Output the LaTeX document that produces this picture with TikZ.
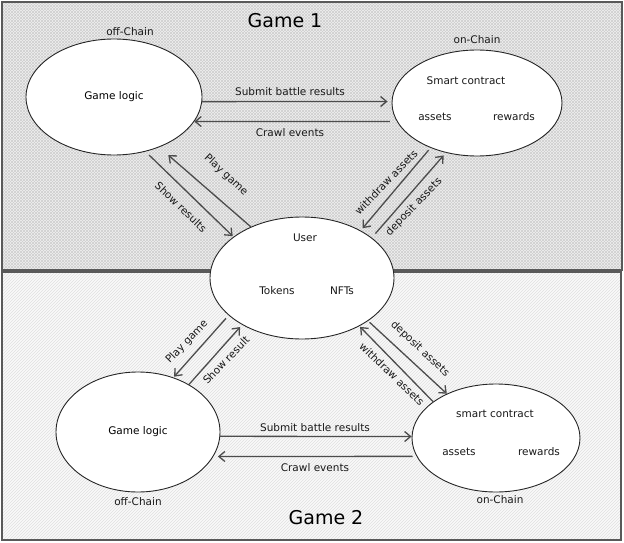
\documentclass[tikz,border=0pt]{standalone}
\usepackage{fontspec}
\setmainfont{DejaVu Sans}
\usetikzlibrary{shapes.geometric,arrows.meta,patterns}
\begin{document}
\begin{tikzpicture}[x=1pt,y=-1pt,
  blob/.style={ellipse,draw=black!85,line width=0.9pt,fill=white,inner sep=0pt,
    font=\fontsize{10.5}{12}\selectfont},
  arr/.style={draw=black!70,line width=1.3pt,-{Straight Barb[length=6pt,width=10pt]}},
  lbl/.style={font=\fontsize{10.5}{12}\selectfont,text=black!90,inner sep=0.5pt},
  ttl/.style={font=\fontsize{19}{22}\selectfont,inner sep=0pt},
  framebox/.style={draw=black!65,line width=1.6pt}]
\useasboundingbox (0,0) rectangle (624,543);
% panels
\fill[gray!12] (2,2) rectangle (622,270);
\fill[pattern=north east lines,pattern color=gray!38] (2,2) rectangle (622,270);
\fill[pattern=north west lines,pattern color=gray!38] (2,2) rectangle (622,270);
\draw[framebox] (2,2) rectangle (622,270);
\fill[gray!4] (2,272) rectangle (621,540);
\fill[pattern=north east lines,pattern color=gray!24] (2,272) rectangle (621,540);
\draw[framebox] (2,272) rectangle (621,540);
% titles
\node[ttl] (t1) at (285,21) {Game 1};
\node[ttl] (t2) at (326,518) {Game 2};
% ellipses
\node[blob,minimum width=176pt,minimum height=116pt] (gl1) at (114,97) {Game logic};
\node[blob,minimum width=170pt,minimum height=106pt] (sc1) at (477,103) {};
\node[blob,minimum width=184pt,minimum height=122pt] (usr) at (302,278) {};
\node[blob,minimum width=164pt,minimum height=120pt] (gl2) at (138,432) {Game logic};
\node[blob,minimum width=168pt,minimum height=108pt] (sc2) at (496,438) {};
% texts in ellipses
\node[lbl] (sct1) at (466,81) {Smart contract};
\node[lbl] (as1) at (435,117) {assets};
\node[lbl] (rw1) at (514,117) {rewards};
\node[lbl] (sct2) at (495,414) {smart contract};
\node[lbl] (as2) at (459,452) {assets};
\node[lbl] (rw2) at (539,452) {rewards};
\node[lbl] (ut) at (305,238) {User};
\node[lbl] (tk) at (277,291) {Tokens};
\node[lbl] (nf) at (342,291) {NFTs};
% chain labels
\node[lbl] (oc1) at (130,32) {off-Chain};
\node[lbl] (nc1) at (477,40) {on-Chain};
\node[lbl] (oc2) at (138,502) {off-Chain};
\node[lbl] (nc2) at (500,500) {on-Chain};
% top arrows
\draw[arr,shorten >=4pt] (gl1.-3.3) -- (sc1.179.3);
\draw[arr,shorten <=7pt] (sc1.193.5) -- (gl1.-17.5);
\draw[arr,shorten >=12pt] (usr.135.5) -- (gl1.-48.1);
\draw[arr,shorten <=5pt,shorten >=1pt] (gl1.-60.8) -- (usr.149.6);
\draw[arr,shorten <=3pt,shorten >=3pt] (sc1.224.2) -- (usr.39.9);
\draw[arr,shorten <=5.5pt,shorten >=3.5pt] (usr.30.9) -- (sc1.238.1);
% bottom arrows
\draw[arr,shorten <=4pt,shorten >=1pt] (usr.207.7) -- (gl2.57.6);
\draw[arr,shorten >=3pt] (gl2.43.2) -- (usr.218.4);
\draw[arr,shorten <=2pt] (usr.-33.1) -- (sc2.138.7);
\draw[arr,shorten >=1pt] (sc2.150.6) -- (usr.-40.6);
\draw[arr] (gl2.-3) -- (sc2.179);
\draw[arr,shorten <=4pt,shorten >=4.5pt] (sc2.193.6) -- (gl2.-18.5);
% connector labels
\node[lbl] (l1) at (290,92) {Submit battle results};
\node[lbl] (l2) at (290,133) {Crawl events};
\node[lbl,rotate=-43] (l3) at (226,175) {Play game};
\node[lbl,rotate=-44] (l4) at (181,207) {Show results};
\node[lbl,rotate=46] (l5) at (386,182) {withdraw assets};
\node[lbl,rotate=46] (l6) at (414,207) {deposit assets};
\node[lbl,rotate=46] (l7) at (187,342) {Play game};
\node[lbl,rotate=46] (l8) at (226,360) {Show result};
\node[lbl,rotate=-43] (l9) at (420,349) {deposit assets};
\node[lbl,rotate=-44] (l10) at (392,374) {withdraw assets};
\node[lbl] (l11) at (315,428) {Submit battle results};
\node[lbl] (l12) at (315,468) {Crawl events};
\end{tikzpicture}
\end{document}
